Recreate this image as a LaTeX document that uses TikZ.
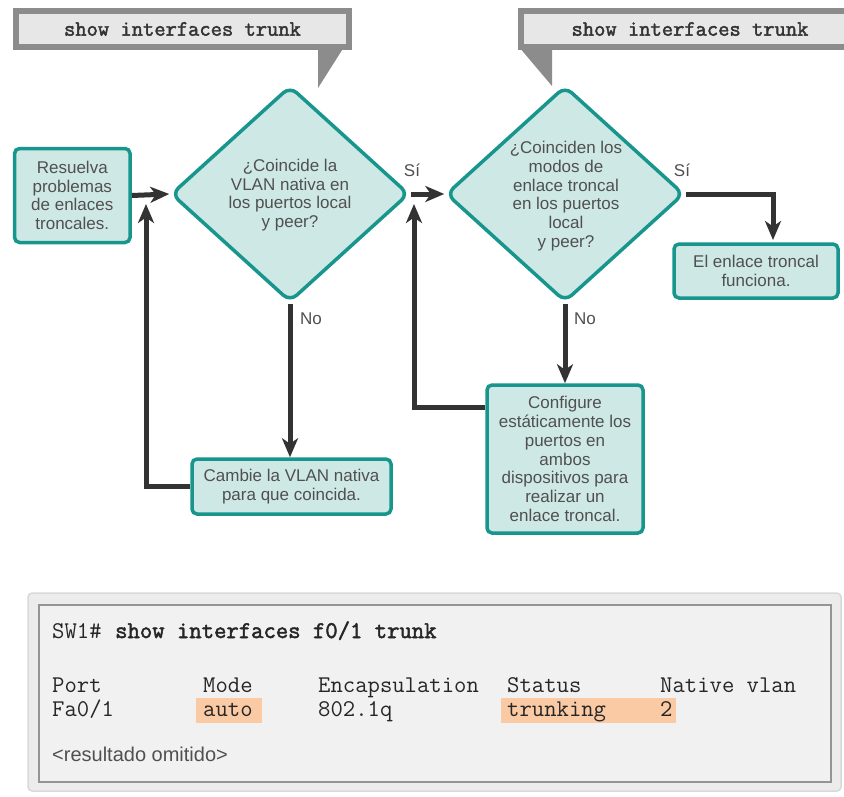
\documentclass[tikz,border=0pt]{standalone}
\usepackage{fontspec}
\setmainfont{Liberation Sans}
\setmonofont{Latin Modern Mono}
\newfontfamily\cmdbold{Latin Modern Mono}[FakeBold=2]
\usetikzlibrary{arrows.meta,shapes.geometric,calc}
\definecolor{tealB}{RGB}{24,150,142}
\definecolor{tealF}{RGB}{206,232,230}
\definecolor{arrowc}{RGB}{51,51,51}
\definecolor{txtgray}{RGB}{80,80,80}
\definecolor{calgray}{RGB}{140,140,140}
\definecolor{calfill}{RGB}{232,231,232}
\definecolor{peach}{RGB}{250,202,165}
\definecolor{panelout}{RGB}{236,236,236}
\definecolor{panelin}{RGB}{241,241,241}
\newcommand{\flowfont}{\fontsize{17}{18.8}\selectfont}
\newcommand{\tabfont}{\ttfamily\fontsize{24}{26}\selectfont}
\tikzset{
  fbox/.style={draw=tealB, fill=tealF, line width=3.5pt, rounded corners=5pt,
    align=center, font=\flowfont, text=txtgray, inner sep=0pt},
  fdiam/.style={diamond, draw=tealB, fill=tealF, line width=3.5pt, rounded corners=9pt,
    inner sep=0pt, minimum width=238pt, minimum height=216pt},
  dtext/.style={align=center, font=\flowfont, text=txtgray, inner sep=0pt},
  flabel/.style={font=\flowfont, text=txtgray, inner sep=0pt},
  flowarrow/.style={draw=arrowc, line width=5pt, -{Stealth[length=19pt,width=16pt,inset=5.5pt]}},
  calbox/.style={draw=calgray, fill=calfill, line width=6pt, inner sep=0pt,
    minimum height=36pt, font=\cmdbold\fontsize{21.9}{24}\selectfont, text=arrowc},
  tabtext/.style={anchor=base west, inner sep=0pt, font=\tabfont, text=black!85},
}
\begin{document}
\begin{tikzpicture}[x=1pt,y=-1pt]
\useasboundingbox (0,0) rectangle (844,796);
\fill[white] (0,0) rectangle (844,796);
\clip (0,0) rectangle (844,796);

% callouts
\node[calbox, minimum width=333pt] (c1) at (182.5,29) {show interfaces trunk};
\fill[calgray] (318,47) -- (344,47) -- (318,88) -- cycle;
\node[calbox, minimum width=338pt] (c2) at (690,29) {show interfaces trunk};
\fill[calgray] (519,47) -- (552,47) -- (552,86) -- cycle;

% flow nodes
\node[fbox, minimum width=115.5pt, minimum height=94pt] (start) at (72.3,195.5)
  {Resuelva\\problemas\\de enlaces\\troncales.};
\node[fdiam] (d1) at (290,194) {};
\node[dtext] (d1t) at (290,195) {¿Coincide la\\VLAN nativa en\\los puertos local\\y peer?};
\node[fdiam] (d2) at (565,194) {};
\node[dtext] (d2t) at (566,196) {¿Coinciden los\\modos de\\enlace troncal\\en los puertos\\local\\y peer?};
\node[fbox, minimum width=164pt, minimum height=54pt] (elbox) at (756,271)
  {El enlace troncal\\funciona.};
\node[fbox, minimum width=199pt, minimum height=55pt] (cambie) at (291.5,486.5)
  {Cambie la VLAN nativa\\para que coincida.};
\node[fbox, minimum width=156pt, minimum height=148pt] (conf) at (565,459)
  {Configure\\estáticamente los\\puertos en\\ambos\\dispositivos para\\realizar un\\enlace troncal.};

% labels
\node[flabel] (si1) at (412,170) {Sí};
\node[flabel] (si2) at (682,170) {Sí};
\node[flabel] (no1) at (311,319) {No};
\node[flabel] (no2) at (585,319) {No};

% connectors
\coordinate (m1) at (146,204);
\coordinate (m2) at (414,204);
\coordinate (k1) at (773,240);
\coordinate (c2s) at ($(conf.north west)+(0,24)$);
\draw[flowarrow] (start.east) -- (d1.west);
\draw[flowarrow] (d1.east) -- (d2.west);
\draw[flowarrow] (d1.south) -- (d1.south |- cambie.north);
\draw[flowarrow] (d2.south) -- (d2.south |- conf.north);
\draw[flowarrow] (d2.east) -| (k1);
\draw[flowarrow] (cambie.west) -| (m1);
\draw[flowarrow] (c2s) -| (m2);

% bottom panel
\draw[draw=black!15, fill=panelout, line width=1.5pt, rounded corners=4pt] (28,593) rectangle (841,791);
\draw[draw=black!42, fill=panelin, line width=2pt] (39,605) rectangle (831,782);
\fill[peach] (196,698) rectangle (262,723);
\fill[peach] (501,698) rectangle (676,723);

\node[tabtext] (sw) at (52,638) {SW1\#};
\node[tabtext, font=\cmdbold\fontsize{24}{26}\selectfont] (cmd) at (115,638) {show interfaces f0/1 trunk};
\node[tabtext] (h1) at (52,692) {Port};
\node[tabtext] (h2) at (203,692) {Mode};
\node[tabtext] (h3) at (318,692) {Encapsulation};
\node[tabtext] (h4) at (507,692) {Status};
\node[tabtext] (h5) at (660,692) {Native vlan};
\node[tabtext] (r1) at (52,716) {Fa0/1};
\node[tabtext] (r2) at (203,716) {auto};
\node[tabtext] (r3) at (318,716) {802.1q};
\node[tabtext] (r4) at (507,716) {trunking};
\node[tabtext] (r5) at (660,716) {2};
\node[anchor=base west, inner sep=0pt, font=\fontsize{20}{22}\selectfont, text=txtgray] (res) at (52,761) {<resultado omitido>};
\end{tikzpicture}
\end{document}
